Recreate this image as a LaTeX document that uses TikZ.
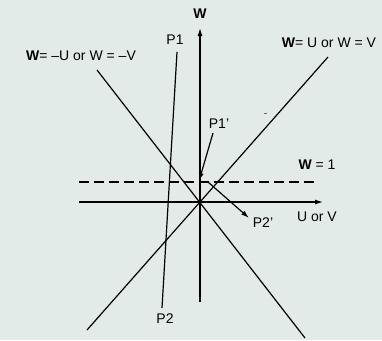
\documentclass[tikz,border=0pt]{standalone}
\usepackage{fontspec}
\setmainfont{Liberation Sans}
\usetikzlibrary{arrows.meta}
\definecolor{bg}{HTML}{E3EBE8}
\begin{document}
\begin{tikzpicture}[x=1pt,y=-1pt,
  lbl/.style={font=\fontsize{14}{16}\selectfont, inner sep=0pt},
  ln/.style={line width=1.2pt, black},
  dashline/.style={ln, dash pattern=on 10pt off 5pt},
  arr/.style={ln, -{Latex[length=8pt,width=5pt]}}]
\fill[bg] (0,0) rectangle (382,340);
\useasboundingbox (0,0) rectangle (382,340);
% coordinates
\coordinate (Wb) at (200,302); \coordinate (Wt) at (200,28);
\coordinate (Ul) at (79,202);  \coordinate (Ur) at (323,202);
\coordinate (Dl) at (79,182);  \coordinate (Dr) at (317,182);
\coordinate (Pa) at (87,330);  \coordinate (Pb) at (328,57);
\coordinate (Na) at (97,70);   \coordinate (Nb) at (305,338);
\coordinate (P1t) at (177,52); \coordinate (P2b) at (162,308);
\coordinate (Q1s) at (213,133); \coordinate (Q1e) at (199,181);
\coordinate (Q2s) at (208,182); \coordinate (Q2e) at (249,218);
% labels
\node[lbl] (wlab) at (200,14) {\textbf{W}};
\node[lbl] (wneg) at (81,56) {\textbf{W}= –U or W = –V};
\node[lbl] (wpos) at (329,43) {\textbf{W}= U or W = V};
\node[lbl] (p1) at (175,40) {P1};
\node[lbl] (p2) at (165,319) {P2};
\node[lbl] (p1p) at (219,124) {P1’};
\node[lbl] (p2p) at (263,223) {P2’};
\node[lbl] (w1) at (317,165) {\textbf{W} = 1};
\node[lbl] (uv) at (317,217) {U or V};
% lines
\draw[dashline] (Dl) -- (Dr);
\draw[arr] (Wb) -- (Wt);
\draw[arr] (Ul) -- (Ur);
\draw[ln] (Pa) -- (Pb);
\draw[ln] (Na) -- (Nb);
\draw[ln] (P1t) -- (P2b);
\draw[arr] (Q1s) -- (Q1e);
\draw[arr] (Q2s) -- (Q2e);
\draw[line width=0.8pt, black!60] (264,113) -- (266.5,113);
\end{tikzpicture}
\end{document}
